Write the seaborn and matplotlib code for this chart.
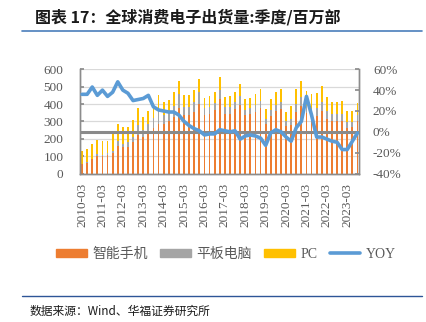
import numpy as np
import pandas as pd
import matplotlib
matplotlib.use("Agg")
import matplotlib.pyplot as plt
from matplotlib.lines import Line2D
from matplotlib.patches import Patch
from matplotlib.ticker import FuncFormatter
import seaborn as sns

# Quarterly shipments, million units (2010-03 .. 2023-09)
quarters = [f"{y}-{m:02d}" for y in range(2010, 2024) for m in (3, 6, 9, 12)][:55]

smartphone = [55, 62, 81, 101, 101, 107, 118, 158, 150, 155, 180, 222, 210, 237, 262, 286,
              283, 301, 327, 375, 334, 337, 355, 400, 335, 343, 363, 428, 345, 342, 373, 395,
              334, 342, 355, 375, 285, 333, 358, 369, 276, 278, 353, 386, 346, 328, 331, 362,
              315, 300, 302, 300, 262, 265, 303]
tablet = [0, 2, 4, 10, 7, 9, 14, 30, 22, 24, 30, 55, 40, 50, 55, 80,
          55, 50, 62, 80, 50, 48, 55, 70, 40, 40, 43, 55, 37, 40, 37, 50,
          33, 33, 37, 45, 28, 35, 38, 45, 25, 38, 47, 54, 40, 45, 47, 50,
          43, 40, 38, 45, 35, 32, 35]
pc = [76, 75, 85, 82, 79, 73, 95, 97, 97, 90, 98, 98, 74, 75, 91, 86,
      75, 72, 78, 79, 68, 67, 71, 72, 58, 63, 61, 74, 60, 63, 60, 70,
      63, 62, 63, 66, 57, 61, 71, 72, 55, 74, 85, 92, 89, 82, 84, 93,
      82, 72, 74, 70, 61, 61, 67]
yoy = [36, 36, 43, 35, 40, 34, 38, 48, 40, 37, 30, 31, 32, 35, 24, 21,
       20, 19, 19, 16, 10, 6, 3, 1, -3, -2, -2, 2, 1, 0, 1, -7,
       -4, -3, -4, -6, -13, -1, 2, 0, -5, -9, 4, 10, 34, 16, -5, -5,
       -7, -9, -10, -17, -17, -9, -1]

series_names = ["智能手机", "平板电脑", "PC", "YOY"]
colors = {"phone": "#ED7D31", "tablet": "#A5A5A5", "pc": "#FFC000", "yoy": "#5B9BD5"}

sns.set_theme(style="white")
plt.rcParams["font.family"] = ["Liberation Serif", "Noto Sans CJK SC", "DejaVu Sans"]

df = pd.DataFrame({"quarter": quarters, "phone": smartphone, "tablet": tablet, "pc": pc})
df["phone_tab"] = df["phone"] + df["tablet"]
df["total"] = df["phone_tab"] + df["pc"]

W, H = 426, 322
fig = plt.figure(figsize=(W / 100, H / 100), dpi=100)
fig.patch.set_facecolor("white")
ax = fig.add_axes([80 / W, 1 - 173.5 / H, 279 / W, 104.2 / H])

# stacked bars: draw cumulative heights back to front
for col, c in [("total", colors["pc"]), ("phone_tab", colors["tablet"]), ("phone", colors["phone"])]:
    sns.barplot(data=df, x="quarter", y=col, color=c, saturation=1, width=0.35,
                errorbar=None, linewidth=0, ax=ax)

axis_grey = "#8C8C8C"
label_grey = "#595959"
ax.set_ylim(0, 600)
ax.set_yticks(range(0, 601, 100))
ax.set_xlim(-0.4, 54.3)
ax.set_xticks(range(0, 55, 4))
ax.set_xticklabels(quarters[::4], rotation=90)
ax.set_xlabel("")
ax.set_ylabel("")
ax.yaxis.grid(True, color="#D9D9D9", lw=0.9)
ax.xaxis.grid(False)
ax.set_axisbelow(True)
ax.tick_params(axis="y", direction="in", length=3, color=axis_grey, labelcolor=label_grey,
               labelsize=9.5, pad=12, left=True)
ax.tick_params(axis="x", length=0, labelcolor=label_grey, labelsize=9.5, pad=7)
for s in ["left", "bottom", "right"]:
    ax.spines[s].set_color(axis_grey)
    ax.spines[s].set_linewidth(1)
ax.spines["top"].set_visible(False)

ax2 = ax.twinx()
ax2.axhline(0, color="#8A8A8A", lw=2.2, zorder=1)
sns.lineplot(x=np.arange(len(yoy)), y=yoy, color=colors["yoy"], lw=2.6, ax=ax2, zorder=3)
ax2.set_ylim(-40, 60)
ax2.set_yticks(range(-40, 61, 20))
ax2.yaxis.set_major_formatter(FuncFormatter(lambda v, p: f"{v:.0f}%"))
ax2.tick_params(axis="y", direction="in", length=3, color=axis_grey, labelcolor=label_grey,
                labelsize=9.5, pad=10, right=True)
ax2.set_ylabel("")
for s in ["left", "bottom", "right"]:
    ax2.spines[s].set_color(axis_grey)
    ax2.spines[s].set_linewidth(1)
ax2.spines["top"].set_visible(False)
ax2.set_xlim(-0.4, 54.3)

handles = [Patch(color=colors["phone"]), Patch(color=colors["tablet"]), Patch(color=colors["pc"]),
           Line2D([], [], color=colors["yoy"], lw=2.6)]
leg = fig.legend(handles, series_names, loc="center", bbox_to_anchor=(226 / W, 1 - 254 / H),
                 ncol=4, frameon=False, handlelength=2.2, handleheight=0.5,
                 columnspacing=0.9, handletextpad=0.4, fontsize=10)
for t in leg.get_texts():
    t.set_color(label_grey)

fig.text(35 / W, 1 - 17 / H, "图表 17：全球消费电子出货量:季度/百万部", fontsize=11.5,
         fontweight="bold", va="center", ha="left",
         family=["Noto Sans CJK SC", "DejaVu Sans"], color="#1A1A1A")
fig.add_artist(Line2D([22 / W, 422 / W], [1 - 31 / H, 1 - 31 / H], color="#4A7EBB", lw=1.2))
fig.add_artist(Line2D([22 / W, 422 / W], [1 - 296 / H, 1 - 296 / H], color="#2E5597", lw=1.0))
fig.text(30 / W, 1 - 311 / H, "数据来源：Wind、华福证券研究所", fontsize=8.5, va="center",
         ha="left", family=["Noto Sans CJK SC", "DejaVu Sans"], color="#1A1A1A")

fig.savefig("out.png", dpi=100, facecolor="white")
